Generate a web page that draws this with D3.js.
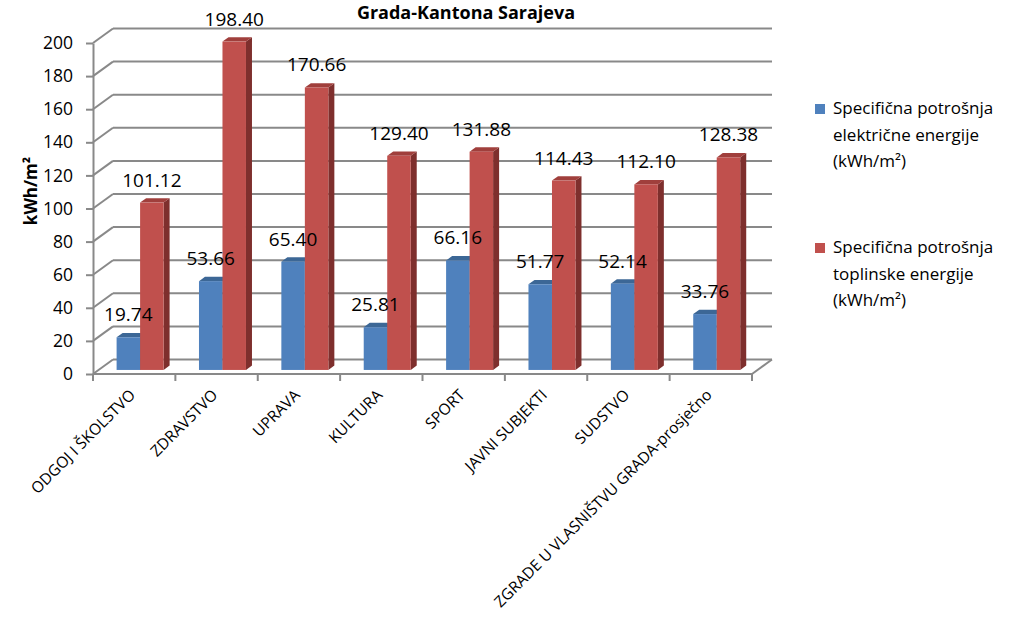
<!DOCTYPE html>
<html>
<head>
<meta charset="utf-8">
<script src="https://cdn.jsdelivr.net/npm/d3@7"></script>
<style>
  body { margin: 0; background: #fff; }
  svg { font-family: "Open Sans", sans-serif; }
</style>
</head>
<body>
<div id="chart"></div>
<script>
// podaci
const categories = ["ODGOJ I ŠKOLSTVO", "ZDRAVSTVO", "UPRAVA", "KULTURA", "SPORT", "JAVNI SUBJEKTI", "SUDSTVO", "ZGRADE U VLASNIŠTVU GRADA-prosječno"];
const electric = [19.74, 53.66, 65.40, 25.81, 66.16, 51.77, 52.14, 33.76];
const thermal = [101.12, 198.40, 170.66, 129.40, 131.88, 114.43, 112.10, 128.38];
const seriesNames = [
    ["Specifična potrošnja", "električne energije", "(kWh/m²)"],
    ["Specifična potrošnja", "toplinske energije", "(kWh/m²)"]
];
const yTicks = [0, 20, 40, 60, 80, 100, 120, 140, 160, 180, 200];

const width = 1014, height = 623;
const depth = { dx: 20, dy: -14.5 };   // dubina zidova (3D)
const barFrac = [0.28, 0.58];          // prednja i zadnja strana stupca u dubini

const colors = [
    { front: "#4F81BD", top: "#3C6796", side: "#385D8A" },
    { front: "#C0504D", top: "#A03F3C", side: "#7E2F2D" }
];

const svg = d3.select("#chart").append("svg")
    .attr("width", width)
    .attr("height", height);

const x = d3.scaleBand().domain(categories).range([93, 752]).padding(0);
const y = d3.scaleLinear().domain([0, 200]).range([374, 43]);
const xs = d3.scaleBand().domain([0, 1]).range([18, 65]).padding(0);

const grid = svg.append("g").attr("stroke", "#898989").attr("stroke-width", 2).attr("fill", "none");
const x0 = x.range()[0], x1 = x.range()[1];

// zidovi i mreža
yTicks.forEach(t => {
    grid.append("line")
        .attr("x1", x0).attr("y1", y(t))
        .attr("x2", x0 + depth.dx).attr("y2", y(t) + depth.dy);
    grid.append("line")
        .attr("x1", x0 + depth.dx).attr("y1", y(t) + depth.dy)
        .attr("x2", x1 + depth.dx).attr("y2", y(t) + depth.dy);
});
// pod
grid.append("line").attr("x1", x1).attr("y1", y(0)).attr("x2", x1 + depth.dx).attr("y2", y(0) + depth.dy);
grid.append("line").attr("x1", x0).attr("y1", y(0)).attr("x2", x1).attr("y2", y(0));
// oznake kategorija
d3.range(categories.length + 1).forEach(i => {
    const xx = x0 + i * x.step();
    grid.append("line").attr("x1", xx).attr("y1", y(0)).attr("x2", xx).attr("y2", y(0) + 7);
});

// y os
const yAxis = svg.append("g")
    .attr("transform", "translate(" + x0 + ",0)")
    .call(d3.axisLeft(y).tickValues(yTicks).tickSize(7).tickSizeOuter(0).tickPadding(13));
yAxis.select(".domain").attr("stroke", "#898989").attr("stroke-width", 2);
yAxis.selectAll(".tick line").attr("stroke", "#898989").attr("stroke-width", 2);
yAxis.selectAll("text").attr("font-size", 17.5).attr("fill", "#000").attr("font-family", "Open Sans");

// stupci
const p = (xx, v, f) => [xx + f * depth.dx, y(v) + f * depth.dy];
const poly = pts => "M" + pts.map(q => q.join(",")).join("L") + "Z";

const bars = svg.append("g");
categories.forEach((c, i) => {
    [electric[i], thermal[i]].forEach((v, s) => {
        const xl = x(c) + xs(s), xr = xl + xs.bandwidth();
        const col = colors[s];
        const g = bars.append("g");
        // bočna strana
        g.append("path").attr("fill", col.side)
            .attr("d", poly([p(xr, 0, barFrac[0]), p(xr, 0, barFrac[1]), p(xr, v, barFrac[1]), p(xr, v, barFrac[0])]));
        // gornja strana
        g.append("path").attr("fill", col.top)
            .attr("d", poly([p(xl, v, barFrac[0]), p(xl, v, barFrac[1]), p(xr, v, barFrac[1]), p(xr, v, barFrac[0])]));
        // prednja strana
        const a = p(xl, v, barFrac[0]), b = p(xr, 0, barFrac[0]);
        g.append("rect").attr("fill", col.front)
            .attr("x", a[0]).attr("y", a[1]).attr("width", b[0] - a[0]).attr("height", b[1] - a[1]);
    });
});

// oznake vrijednosti
const labels = svg.append("g").attr("font-size", 19).attr("text-anchor", "middle").attr("fill", "#000");
categories.forEach((c, i) => {
    [electric[i], thermal[i]].forEach((v, s) => {
        const xl = x(c) + xs(s);
        const a = p(xl + xs.bandwidth() / 2, v, barFrac[0]);
        labels.append("text")
            .attr("x", a[0]).attr("y", a[1] - 16)
            .text(v.toFixed(2));
    });
});

// oznake kategorija
svg.append("g").selectAll("text")
    .data(categories)
    .join("text")
    .attr("font-size", 15.5)
    .attr("text-anchor", "end")
    .attr("transform", d => "translate(" + (x(d) + x.bandwidth() / 2 + 2) + ",396) rotate(-45)")
    .text(d => d);

// naslov
svg.append("text")
    .attr("x", 466).attr("y", 19)
    .attr("text-anchor", "middle")
    .attr("font-size", 18).attr("font-weight", "bold")
    .text("Grada-Kantona Sarajeva");

// naziv y osi
svg.append("text")
    .attr("transform", "translate(37,191) rotate(-90)")
    .attr("text-anchor", "middle")
    .attr("font-size", 17).attr("font-weight", "bold")
    .text("kWh/m²");

// legenda
const legend = svg.append("g");
seriesNames.forEach((lines, s) => {
    const ly = s === 0 ? 114 : 253;
    legend.append("rect")
        .attr("x", 815).attr("y", ly - 10)
        .attr("width", 10).attr("height", 10)
        .attr("fill", colors[s].front);
    lines.forEach((t, k) => {
        legend.append("text")
            .attr("x", 833).attr("y", ly + k * 26.5)
            .attr("font-size", 17)
            .text(t);
    });
});
</script>
</body>
</html>
